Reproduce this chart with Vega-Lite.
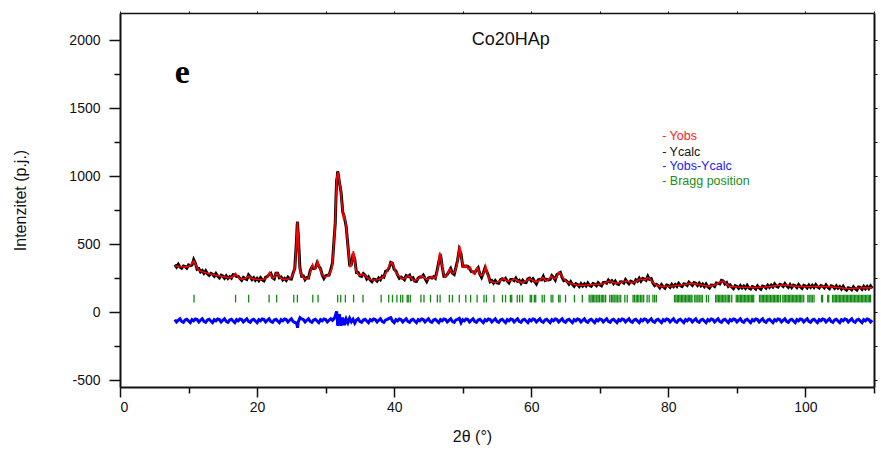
{
"$schema": "https://vega.github.io/schema/vega-lite/v6.json",
"width": 754,
"height": 374,
"autosize": {"type": "none"},
"padding": {"left": 120, "top": 13, "right": 7, "bottom": 64},
"background": "white",
"config": {"view": {"stroke": null}, "axis": {"grid": false, "labelFont": "Liberation Sans", "titleFont": "Liberation Sans", "labelColor": "#111", "titleColor": "#111", "domainColor": "#111", "tickColor": "#111"}},
"datasets": {
"obs": [
{"t":8.0,"c":349,"d":-54},{"t":8.25,"c":332,"d":-72},{"t":8.5,"c":352,"d":-59},{"t":8.75,"c":332,"d":-48},{"t":9.0,"c":323,"d":-68},{"t":9.25,"c":340,"d":-75},{"t":9.5,"c":335,"d":-57},{"t":9.75,"c":324,"d":-52},{"t":10.0,"c":347,"d":-65},{"t":10.25,"c":342,"d":-77},{"t":10.5,"c":346,"d":-55},{"t":10.75,"c":386,"d":-63},{"t":11.0,"c":359,"d":-50},{"t":11.25,"c":316,"d":-54},{"t":11.5,"c":321,"d":-72},{"t":11.75,"c":296,"d":-59},{"t":12.0,"c":306,"d":-48},{"t":12.25,"c":286,"d":-68},{"t":12.5,"c":304,"d":-75},{"t":12.75,"c":282,"d":-57},{"t":13.0,"c":271,"d":-52},{"t":13.25,"c":286,"d":-65},{"t":13.5,"c":279,"d":-77},{"t":13.75,"c":264,"d":-55},{"t":14.0,"c":284,"d":-63},{"t":14.25,"c":266,"d":-50},{"t":14.5,"c":253,"d":-54},{"t":14.75,"c":272,"d":-72},{"t":15.0,"c":266,"d":-59},{"t":15.25,"c":250,"d":-48},{"t":15.5,"c":267,"d":-68},{"t":15.75,"c":248,"d":-75},{"t":16.0,"c":261,"d":-57},{"t":16.25,"c":250,"d":-52},{"t":16.5,"c":276,"d":-65},{"t":16.75,"c":274,"d":-77},{"t":17.0,"c":263,"d":-55},{"t":17.25,"c":264,"d":-63},{"t":17.5,"c":247,"d":-50},{"t":17.75,"c":234,"d":-54},{"t":18.0,"c":255,"d":-72},{"t":18.25,"c":246,"d":-59},{"t":18.5,"c":241,"d":-48},{"t":18.75,"c":274,"d":-68},{"t":19.0,"c":259,"d":-75},{"t":19.25,"c":240,"d":-57},{"t":19.5,"c":254,"d":-52},{"t":19.75,"c":235,"d":-65},{"t":20.0,"c":249,"d":-77},{"t":20.25,"c":233,"d":-55},{"t":20.5,"c":254,"d":-63},{"t":20.75,"c":237,"d":-50},{"t":21.0,"c":230,"d":-54},{"t":21.25,"c":257,"d":-72},{"t":21.5,"c":262,"d":-59},{"t":21.75,"c":277,"d":-48},{"t":22.0,"c":286,"d":-68},{"t":22.25,"c":253,"d":-75},{"t":22.5,"c":245,"d":-57},{"t":22.75,"c":286,"d":-52},{"t":23.0,"c":286,"d":-65},{"t":23.25,"c":253,"d":-77},{"t":23.5,"c":259,"d":-55},{"t":23.75,"c":238,"d":-63},{"t":24.0,"c":249,"d":-50},{"t":24.25,"c":234,"d":-54},{"t":24.5,"c":257,"d":-72},{"t":24.75,"c":245,"d":-59},{"t":25.0,"c":243,"d":-48},{"t":25.25,"c":286,"d":-68},{"t":25.5,"c":322,"d":-75},{"t":25.75,"c":530,"d":-80},{"t":25.85,"c":642,"d":-100},{"t":25.9,"c":665,"d":-115},{"t":25.95,"c":606,"d":-95},{"t":26.0,"c":578,"d":-72},{"t":26.25,"c":324,"d":-40},{"t":26.5,"c":264,"d":-50},{"t":26.75,"c":267,"d":-54},{"t":27.0,"c":239,"d":-72},{"t":27.25,"c":254,"d":-59},{"t":27.5,"c":251,"d":-48},{"t":27.75,"c":306,"d":-68},{"t":28.0,"c":331,"d":-75},{"t":28.25,"c":320,"d":-57},{"t":28.5,"c":324,"d":-52},{"t":28.75,"c":362,"d":-65},{"t":29.0,"c":340,"d":-77},{"t":29.25,"c":320,"d":-55},{"t":29.5,"c":274,"d":-63},{"t":29.75,"c":248,"d":-50},{"t":30.0,"c":268,"d":-54},{"t":30.25,"c":271,"d":-72},{"t":30.5,"c":272,"d":-59},{"t":30.75,"c":313,"d":-48},{"t":31.0,"c":364,"d":-60},{"t":31.25,"c":549,"d":-45},{"t":31.4,"c":653,"d":-30},{"t":31.5,"c":829,"d":-10},{"t":31.6,"c":966,"d":5},{"t":31.7,"c":998,"d":-40},{"t":31.75,"c":1036,"d":-100},{"t":31.85,"c":1010,"d":-80},{"t":32.0,"c":958,"d":-15},{"t":32.25,"c":882,"d":-100},{"t":32.5,"c":735,"d":-40},{"t":32.75,"c":694,"d":-95},{"t":33.0,"c":628,"d":-50},{"t":33.25,"c":489,"d":-78},{"t":33.5,"c":349,"d":-45},{"t":33.75,"c":351,"d":-70},{"t":34.0,"c":429,"d":-52},{"t":34.25,"c":389,"d":-80},{"t":34.5,"c":291,"d":-58},{"t":34.75,"c":291,"d":-48},{"t":35.0,"c":268,"d":-68},{"t":35.25,"c":263,"d":-75},{"t":35.5,"c":284,"d":-57},{"t":35.75,"c":272,"d":-52},{"t":36.0,"c":245,"d":-65},{"t":36.25,"c":260,"d":-77},{"t":36.5,"c":237,"d":-55},{"t":36.75,"c":224,"d":-63},{"t":37.0,"c":243,"d":-50},{"t":37.25,"c":240,"d":-54},{"t":37.5,"c":229,"d":-72},{"t":37.75,"c":252,"d":-59},{"t":38.0,"c":239,"d":-48},{"t":38.25,"c":264,"d":-68},{"t":38.5,"c":258,"d":-75},{"t":38.75,"c":300,"d":-57},{"t":39.0,"c":306,"d":-52},{"t":39.25,"c":326,"d":-45},{"t":39.5,"c":366,"d":-40},{"t":39.75,"c":359,"d":-65},{"t":40.0,"c":315,"d":-77},{"t":40.25,"c":304,"d":-55},{"t":40.5,"c":272,"d":-63},{"t":40.75,"c":250,"d":-50},{"t":41.0,"c":259,"d":-54},{"t":41.25,"c":250,"d":-72},{"t":41.5,"c":239,"d":-59},{"t":41.75,"c":269,"d":-48},{"t":42.0,"c":262,"d":-68},{"t":42.25,"c":272,"d":-75},{"t":42.5,"c":242,"d":-57},{"t":42.75,"c":253,"d":-52},{"t":43.0,"c":228,"d":-65},{"t":43.25,"c":226,"d":-77},{"t":43.5,"c":251,"d":-55},{"t":43.75,"c":258,"d":-63},{"t":44.0,"c":258,"d":-50},{"t":44.25,"c":272,"d":-54},{"t":44.5,"c":248,"d":-72},{"t":44.75,"c":226,"d":-59},{"t":45.0,"c":252,"d":-48},{"t":45.25,"c":256,"d":-68},{"t":45.5,"c":251,"d":-75},{"t":45.75,"c":261,"d":-57},{"t":46.0,"c":250,"d":-52},{"t":46.25,"c":304,"d":-65},{"t":46.5,"c":367,"d":-77},{"t":46.75,"c":426,"d":-55},{"t":47.0,"c":336,"d":-63},{"t":47.25,"c":264,"d":-50},{"t":47.5,"c":264,"d":-54},{"t":47.75,"c":278,"d":-72},{"t":48.0,"c":298,"d":-59},{"t":48.25,"c":321,"d":-48},{"t":48.5,"c":287,"d":-68},{"t":48.75,"c":278,"d":-75},{"t":49.0,"c":328,"d":-57},{"t":49.25,"c":382,"d":-52},{"t":49.5,"c":461,"d":-45},{"t":49.75,"c":429,"d":-77},{"t":50.0,"c":338,"d":-55},{"t":50.25,"c":339,"d":-63},{"t":50.5,"c":338,"d":-50},{"t":50.75,"c":336,"d":-54},{"t":51.0,"c":322,"d":-72},{"t":51.25,"c":300,"d":-59},{"t":51.5,"c":296,"d":-48},{"t":51.75,"c":289,"d":-68},{"t":52.0,"c":310,"d":-75},{"t":52.25,"c":326,"d":-57},{"t":52.5,"c":280,"d":-52},{"t":52.75,"c":256,"d":-65},{"t":53.0,"c":288,"d":-77},{"t":53.25,"c":326,"d":-55},{"t":53.5,"c":301,"d":-63},{"t":53.75,"c":269,"d":-50},{"t":54.0,"c":224,"d":-54},{"t":54.25,"c":232,"d":-72},{"t":54.5,"c":214,"d":-59},{"t":54.75,"c":233,"d":-48},{"t":55.0,"c":216,"d":-68},{"t":55.25,"c":213,"d":-75},{"t":55.5,"c":238,"d":-57},{"t":55.75,"c":245,"d":-52},{"t":56.0,"c":236,"d":-65},{"t":56.25,"c":249,"d":-77},{"t":56.5,"c":228,"d":-55},{"t":56.75,"c":215,"d":-63},{"t":57.0,"c":241,"d":-50},{"t":57.25,"c":241,"d":-54},{"t":57.5,"c":232,"d":-72},{"t":57.75,"c":250,"d":-59},{"t":58.0,"c":227,"d":-48},{"t":58.25,"c":235,"d":-68},{"t":58.5,"c":213,"d":-75},{"t":58.75,"c":234,"d":-57},{"t":59.0,"c":220,"d":-52},{"t":59.25,"c":218,"d":-65},{"t":59.5,"c":245,"d":-77},{"t":59.75,"c":250,"d":-55},{"t":60.0,"c":231,"d":-63},{"t":60.25,"c":246,"d":-50},{"t":60.5,"c":225,"d":-54},{"t":60.75,"c":208,"d":-72},{"t":61.0,"c":237,"d":-59},{"t":61.25,"c":241,"d":-48},{"t":61.5,"c":238,"d":-68},{"t":61.75,"c":264,"d":-75},{"t":62.0,"c":234,"d":-57},{"t":62.25,"c":241,"d":-52},{"t":62.5,"c":237,"d":-65},{"t":62.75,"c":241,"d":-77},{"t":63.0,"c":269,"d":-55},{"t":63.25,"c":255,"d":-63},{"t":63.5,"c":236,"d":-50},{"t":63.75,"c":277,"d":-54},{"t":64.0,"c":284,"d":-72},{"t":64.25,"c":292,"d":-59},{"t":64.5,"c":256,"d":-48},{"t":64.75,"c":232,"d":-68},{"t":65.0,"c":236,"d":-75},{"t":65.25,"c":224,"d":-57},{"t":65.5,"c":206,"d":-52},{"t":65.75,"c":224,"d":-65},{"t":66.0,"c":205,"d":-77},{"t":66.25,"c":191,"d":-55},{"t":66.5,"c":210,"d":-63},{"t":66.75,"c":204,"d":-50},{"t":67.0,"c":189,"d":-54},{"t":67.25,"c":209,"d":-72},{"t":67.5,"c":192,"d":-59},{"t":67.75,"c":208,"d":-48},{"t":68.0,"c":193,"d":-68},{"t":68.25,"c":215,"d":-75},{"t":68.5,"c":198,"d":-57},{"t":68.75,"c":191,"d":-52},{"t":69.0,"c":210,"d":-65},{"t":69.25,"c":206,"d":-77},{"t":69.5,"c":195,"d":-55},{"t":69.75,"c":217,"d":-63},{"t":70.0,"c":203,"d":-50},{"t":70.25,"c":194,"d":-54},{"t":70.5,"c":218,"d":-72},{"t":70.75,"c":220,"d":-59},{"t":71.0,"c":213,"d":-48},{"t":71.25,"c":236,"d":-68},{"t":71.5,"c":222,"d":-75},{"t":71.75,"c":232,"d":-57},{"t":72.0,"c":211,"d":-52},{"t":72.25,"c":228,"d":-65},{"t":72.5,"c":209,"d":-77},{"t":72.75,"c":204,"d":-55},{"t":73.0,"c":224,"d":-63},{"t":73.25,"c":223,"d":-50},{"t":73.5,"c":214,"d":-54},{"t":73.75,"c":240,"d":-72},{"t":74.0,"c":223,"d":-59},{"t":74.25,"c":209,"d":-48},{"t":74.5,"c":228,"d":-68},{"t":74.75,"c":221,"d":-75},{"t":75.0,"c":212,"d":-57},{"t":75.25,"c":238,"d":-52},{"t":75.5,"c":228,"d":-65},{"t":75.75,"c":250,"d":-77},{"t":76.0,"c":228,"d":-55},{"t":76.25,"c":248,"d":-63},{"t":76.5,"c":243,"d":-50},{"t":76.75,"c":235,"d":-54},{"t":77.0,"c":265,"d":-72},{"t":77.25,"c":241,"d":-59},{"t":77.5,"c":246,"d":-48},{"t":77.75,"c":214,"d":-68},{"t":78.0,"c":196,"d":-75},{"t":78.25,"c":205,"d":-57},{"t":78.5,"c":196,"d":-52},{"t":78.75,"c":180,"d":-65},{"t":79.0,"c":202,"d":-77},{"t":79.25,"c":187,"d":-55},{"t":79.5,"c":176,"d":-63},{"t":79.75,"c":199,"d":-50},{"t":80.0,"c":195,"d":-54},{"t":80.25,"c":183,"d":-72},{"t":80.5,"c":204,"d":-59},{"t":80.75,"c":188,"d":-48},{"t":81.0,"c":204,"d":-68},{"t":81.25,"c":190,"d":-75},{"t":81.5,"c":212,"d":-57},{"t":81.75,"c":196,"d":-52},{"t":82.0,"c":189,"d":-65},{"t":82.25,"c":209,"d":-77},{"t":82.5,"c":207,"d":-55},{"t":82.75,"c":197,"d":-63},{"t":83.0,"c":221,"d":-50},{"t":83.25,"c":209,"d":-54},{"t":83.5,"c":197,"d":-72},{"t":83.75,"c":217,"d":-59},{"t":84.0,"c":212,"d":-48},{"t":84.25,"c":196,"d":-68},{"t":84.5,"c":214,"d":-75},{"t":84.75,"c":194,"d":-57},{"t":85.0,"c":207,"d":-52},{"t":85.25,"c":189,"d":-65},{"t":85.5,"c":208,"d":-77},{"t":85.75,"c":188,"d":-55},{"t":86.0,"c":178,"d":-63},{"t":86.25,"c":199,"d":-50},{"t":86.5,"c":198,"d":-54},{"t":86.75,"c":189,"d":-72},{"t":87.0,"c":215,"d":-59},{"t":87.25,"c":212,"d":-48},{"t":87.5,"c":208,"d":-68},{"t":87.75,"c":234,"d":-75},{"t":88.0,"c":229,"d":-57},{"t":88.25,"c":208,"d":-52},{"t":88.5,"c":218,"d":-65},{"t":88.75,"c":190,"d":-77},{"t":89.0,"c":201,"d":-55},{"t":89.25,"c":186,"d":-63},{"t":89.5,"c":174,"d":-50},{"t":89.75,"c":195,"d":-54},{"t":90.0,"c":189,"d":-72},{"t":90.25,"c":176,"d":-59},{"t":90.5,"c":195,"d":-48},{"t":90.75,"c":178,"d":-68},{"t":91.0,"c":192,"d":-75},{"t":91.25,"c":176,"d":-57},{"t":91.5,"c":197,"d":-52},{"t":91.75,"c":178,"d":-65},{"t":92.0,"c":170,"d":-77},{"t":92.25,"c":188,"d":-55},{"t":92.5,"c":183,"d":-63},{"t":92.75,"c":171,"d":-50},{"t":93.0,"c":194,"d":-54},{"t":93.25,"c":179,"d":-72},{"t":93.5,"c":169,"d":-59},{"t":93.75,"c":192,"d":-48},{"t":94.0,"c":189,"d":-68},{"t":94.25,"c":177,"d":-75},{"t":94.5,"c":198,"d":-57},{"t":94.75,"c":183,"d":-52},{"t":95.0,"c":199,"d":-65},{"t":95.25,"c":185,"d":-77},{"t":95.5,"c":208,"d":-55},{"t":95.75,"c":191,"d":-63},{"t":96.0,"c":185,"d":-50},{"t":96.25,"c":204,"d":-54},{"t":96.5,"c":201,"d":-72},{"t":96.75,"c":190,"d":-59},{"t":97.0,"c":210,"d":-48},{"t":97.25,"c":194,"d":-68},{"t":97.5,"c":182,"d":-75},{"t":97.75,"c":203,"d":-57},{"t":98.0,"c":182,"d":-52},{"t":98.25,"c":199,"d":-65},{"t":98.5,"c":194,"d":-77},{"t":98.75,"c":181,"d":-55},{"t":99.0,"c":203,"d":-63},{"t":99.25,"c":187,"d":-50},{"t":99.5,"c":175,"d":-54},{"t":99.75,"c":197,"d":-72},{"t":100.0,"c":192,"d":-59},{"t":100.25,"c":179,"d":-48},{"t":100.5,"c":199,"d":-68},{"t":100.75,"c":183,"d":-75},{"t":101.0,"c":198,"d":-57},{"t":101.25,"c":182,"d":-52},{"t":101.5,"c":203,"d":-65},{"t":101.75,"c":186,"d":-77},{"t":102.0,"c":178,"d":-55},{"t":102.25,"c":196,"d":-63},{"t":102.5,"c":191,"d":-50},{"t":102.75,"c":179,"d":-54},{"t":103.0,"c":200,"d":-72},{"t":103.25,"c":184,"d":-59},{"t":103.5,"c":173,"d":-48},{"t":103.75,"c":194,"d":-68},{"t":104.0,"c":189,"d":-75},{"t":104.25,"c":175,"d":-57},{"t":104.5,"c":194,"d":-52},{"t":104.75,"c":176,"d":-65},{"t":105.0,"c":189,"d":-77},{"t":105.25,"c":171,"d":-55},{"t":105.5,"c":191,"d":-63},{"t":105.75,"c":171,"d":-50},{"t":106.0,"c":162,"d":-54},{"t":106.25,"c":180,"d":-72},{"t":106.5,"c":176,"d":-59},{"t":106.75,"c":165,"d":-48},{"t":107.0,"c":187,"d":-68},{"t":107.25,"c":173,"d":-75},{"t":107.5,"c":163,"d":-57},{"t":107.75,"c":185,"d":-52},{"t":108.0,"c":182,"d":-65},{"t":108.25,"c":169,"d":-77},{"t":108.5,"c":190,"d":-55},{"t":108.75,"c":173,"d":-63},{"t":109.0,"c":189,"d":-50},{"t":109.25,"c":173,"d":-54},{"t":109.5,"c":193,"d":-72},{"t":109.75,"c":175,"d":-59}
],
"fit": [
{"t":8.0,"y":340},{"t":8.5,"y":338},{"t":9.0,"y":335},{"t":9.5,"y":333},{"t":10.0,"y":335},{"t":10.25,"y":345},{"t":10.5,"y":360},{"t":10.75,"y":378},{"t":11.0,"y":355},{"t":11.25,"y":325},{"t":11.5,"y":310},{"t":11.75,"y":302},{"t":12.0,"y":297},{"t":12.5,"y":290},{"t":13.0,"y":283},{"t":13.5,"y":277},{"t":14.0,"y":272},{"t":14.5,"y":267},{"t":15.0,"y":262},{"t":15.5,"y":256},{"t":16.0,"y":252},{"t":16.5,"y":262},{"t":16.85,"y":285},{"t":17.25,"y":258},{"t":17.5,"y":245},{"t":18.0,"y":243},{"t":18.5,"y":255},{"t":18.75,"y":266},{"t":19.0,"y":255},{"t":19.5,"y":243},{"t":20.0,"y":240},{"t":20.5,"y":240},{"t":21.0,"y":242},{"t":21.5,"y":260},{"t":21.8,"y":292},{"t":22.1,"y":265},{"t":22.35,"y":250},{"t":22.6,"y":265},{"t":22.9,"y":290},{"t":23.2,"y":265},{"t":23.5,"y":248},{"t":24.0,"y":240},{"t":24.5,"y":243},{"t":25.0,"y":255},{"t":25.3,"y":285},{"t":25.55,"y":339},{"t":25.72,"y":500},{"t":25.88,"y":665},{"t":26.04,"y":530},{"t":26.18,"y":340},{"t":26.35,"y":285},{"t":26.7,"y":258},{"t":27.0,"y":245},{"t":27.3,"y":245},{"t":27.6,"y":265},{"t":27.9,"y":320},{"t":28.1,"y":350},{"t":28.35,"y":320},{"t":28.5,"y":318},{"t":28.85,"y":375},{"t":29.1,"y":330},{"t":29.4,"y":285},{"t":29.7,"y":262},{"t":30.0,"y":260},{"t":30.3,"y":268},{"t":30.6,"y":285},{"t":30.9,"y":320},{"t":31.1,"y":420},{"t":31.4,"y":660},{"t":31.6,"y":970},{"t":31.75,"y":1030},{"t":31.95,"y":985},{"t":32.2,"y":900},{"t":32.4,"y":780},{"t":32.6,"y":695},{"t":32.75,"y":708},{"t":32.95,"y":650},{"t":33.15,"y":540},{"t":33.35,"y":430},{"t":33.55,"y":335},{"t":33.75,"y":340},{"t":33.95,"y":420},{"t":34.05,"y":450},{"t":34.2,"y":400},{"t":34.45,"y":302},{"t":34.8,"y":275},{"t":35.1,"y":270},{"t":35.4,"y":280},{"t":35.7,"y":272},{"t":36.0,"y":255},{"t":36.5,"y":240},{"t":37.0,"y":235},{"t":37.5,"y":238},{"t":38.0,"y":245},{"t":38.25,"y":255},{"t":38.5,"y":265},{"t":38.8,"y":290},{"t":39.1,"y":320},{"t":39.4,"y":355},{"t":39.65,"y":368},{"t":39.9,"y":340},{"t":40.2,"y":295},{"t":40.5,"y":275},{"t":40.8,"y":262},{"t":41.1,"y":245},{"t":41.5,"y":248},{"t":42.0,"y":268},{"t":42.3,"y":262},{"t":42.6,"y":243},{"t":43.0,"y":232},{"t":43.5,"y":245},{"t":44.0,"y":268},{"t":44.4,"y":255},{"t":44.8,"y":238},{"t":45.2,"y":250},{"t":45.45,"y":262},{"t":45.8,"y":248},{"t":46.1,"y":260},{"t":46.4,"y":330},{"t":46.65,"y":440},{"t":46.9,"y":370},{"t":47.2,"y":280},{"t":47.5,"y":258},{"t":47.8,"y":280},{"t":48.1,"y":322},{"t":48.35,"y":300},{"t":48.6,"y":285},{"t":48.9,"y":300},{"t":49.2,"y":360},{"t":49.55,"y":490},{"t":49.8,"y":400},{"t":50.05,"y":330},{"t":50.3,"y":330},{"t":50.5,"y":345},{"t":50.8,"y":318},{"t":51.1,"y":330},{"t":51.4,"y":295},{"t":51.7,"y":280},{"t":52.0,"y":320},{"t":52.15,"y":328},{"t":52.4,"y":290},{"t":52.7,"y":268},{"t":53.0,"y":280},{"t":53.35,"y":340},{"t":53.6,"y":285},{"t":53.9,"y":232},{"t":54.3,"y":222},{"t":54.9,"y":218},{"t":55.4,"y":228},{"t":55.9,"y":250},{"t":56.3,"y":235},{"t":56.7,"y":228},{"t":57.2,"y":236},{"t":57.6,"y":243},{"t":58.1,"y":230},{"t":58.6,"y":217},{"t":59.2,"y":228},{"t":59.75,"y":248},{"t":60.2,"y":235},{"t":60.75,"y":222},{"t":61.2,"y":235},{"t":61.7,"y":255},{"t":62.2,"y":230},{"t":62.6,"y":245},{"t":62.9,"y":265},{"t":63.2,"y":252},{"t":63.5,"y":245},{"t":63.8,"y":270},{"t":64.05,"y":295},{"t":64.3,"y":280},{"t":64.6,"y":255},{"t":65.0,"y":230},{"t":65.4,"y":218},{"t":66.0,"y":208},{"t":66.5,"y":202},{"t":67.0,"y":198},{"t":67.5,"y":198},{"t":68.0,"y":200},{"t":68.5,"y":202},{"t":69.0,"y":204},{"t":69.5,"y":205},{"t":70.0,"y":206},{"t":70.5,"y":210},{"t":71.0,"y":222},{"t":71.5,"y":228},{"t":72.0,"y":218},{"t":72.4,"y":212},{"t":73.0,"y":218},{"t":73.5,"y":224},{"t":73.85,"y":229},{"t":74.3,"y":222},{"t":74.8,"y":217},{"t":75.3,"y":228},{"t":75.8,"y":242},{"t":76.3,"y":240},{"t":76.6,"y":238},{"t":77.0,"y":254},{"t":77.3,"y":245},{"t":77.7,"y":220},{"t":78.2,"y":200},{"t":78.7,"y":190},{"t":79.5,"y":190},{"t":80.5,"y":193},{"t":81.5,"y":198},{"t":82.5,"y":205},{"t":83.3,"y":212},{"t":84.0,"y":208},{"t":85.0,"y":198},{"t":86.0,"y":190},{"t":86.8,"y":200},{"t":87.4,"y":220},{"t":87.9,"y":228},{"t":88.3,"y":215},{"t":88.9,"y":190},{"t":90.0,"y":185},{"t":91.0,"y":183},{"t":92.0,"y":182},{"t":92.8,"y":181},{"t":94.0,"y":185},{"t":95.0,"y":190},{"t":96.0,"y":197},{"t":96.6,"y":200},{"t":97.5,"y":196},{"t":98.5,"y":192},{"t":100.0,"y":188},{"t":101.0,"y":189},{"t":102.0,"y":190},{"t":103.0,"y":188},{"t":104.0,"y":185},{"t":105.0,"y":180},{"t":105.9,"y":174},{"t":107.0,"y":175},{"t":108.0,"y":178},{"t":109.0,"y":180},{"t":109.75,"y":179}
],
"bragg": [
{"b":10.8},{"b":16.86},{"b":18.77},{"b":21.75},{"b":22.85},{"b":25.35},{"b":25.88},{"b":28.13},{"b":28.9},{"b":31.75},{"b":32.2},{"b":32.88},{"b":34.08},{"b":35.45},{"b":38.1},{"b":39.2},{"b":39.75},{"b":40.4},{"b":40.95},{"b":41.25},{"b":41.9},{"b":42.05},{"b":42.35},{"b":43.9},{"b":44.35},{"b":45.3},{"b":46.3},{"b":46.7},{"b":48.05},{"b":48.5},{"b":49.5},{"b":50.45},{"b":51.15},{"b":52.1},{"b":53.1},{"b":53.45},{"b":54.55},{"b":55.8},{"b":56.25},{"b":56.95},{"b":57.15},{"b":57.95},{"b":58.3},{"b":58.7},{"b":59.85},{"b":60.05},{"b":60.45},{"b":60.65},{"b":61.6},{"b":61.9},{"b":62.9},{"b":63.15},{"b":64.0},{"b":64.2},{"b":65.0},{"b":66.3},{"b":67.45},{"b":68.45},{"b":68.7},{"b":68.9},{"b":69.1},{"b":69.3},{"b":69.55},{"b":69.75},{"b":69.95},{"b":70.2},{"b":70.4},{"b":70.6},{"b":70.85},{"b":71.45},{"b":71.7},{"b":71.9},{"b":72.1},{"b":72.35},{"b":72.55},{"b":72.8},{"b":73.05},{"b":73.65},{"b":74.0},{"b":74.85},{"b":75.05},{"b":75.3},{"b":75.5},{"b":75.7},{"b":75.95},{"b":76.15},{"b":76.4},{"b":76.9},{"b":77.2},{"b":77.75},{"b":78.0},{"b":78.25},{"b":80.9},{"b":81.1},{"b":81.3},{"b":81.5},{"b":81.7},{"b":81.9},{"b":82.1},{"b":82.3},{"b":82.5},{"b":82.7},{"b":82.9},{"b":83.1},{"b":83.3},{"b":83.45},{"b":83.85},{"b":84.05},{"b":84.3},{"b":84.5},{"b":84.75},{"b":84.95},{"b":85.55},{"b":85.85},{"b":86.9},{"b":87.1},{"b":87.3},{"b":87.5},{"b":87.7},{"b":87.9},{"b":88.1},{"b":88.3},{"b":88.55},{"b":88.75},{"b":88.95},{"b":89.25},{"b":89.9},{"b":90.1},{"b":90.3},{"b":90.5},{"b":90.7},{"b":90.9},{"b":91.1},{"b":91.3},{"b":91.5},{"b":91.7},{"b":91.9},{"b":92.1},{"b":92.3},{"b":92.45},{"b":93.3},{"b":93.5},{"b":93.7},{"b":93.9},{"b":94.1},{"b":94.3},{"b":94.5},{"b":94.7},{"b":94.9},{"b":95.1},{"b":95.3},{"b":95.5},{"b":95.7},{"b":95.9},{"b":96.1},{"b":96.35},{"b":96.7},{"b":96.9},{"b":97.1},{"b":97.3},{"b":97.5},{"b":97.7},{"b":97.9},{"b":98.1},{"b":98.3},{"b":98.5},{"b":98.7},{"b":98.9},{"b":99.1},{"b":99.3},{"b":99.5},{"b":99.75},{"b":100.35},{"b":100.55},{"b":100.8},{"b":101.0},{"b":101.25},{"b":102.35},{"b":102.5},{"b":103.25},{"b":103.4},{"b":103.95},{"b":104.15},{"b":104.35},{"b":104.55},{"b":104.75},{"b":104.95},{"b":105.15},{"b":105.35},{"b":105.55},{"b":105.75},{"b":105.95},{"b":106.15},{"b":106.35},{"b":106.55},{"b":106.75},{"b":106.95},{"b":107.15},{"b":107.35},{"b":107.55},{"b":107.75},{"b":107.95},{"b":108.15},{"b":108.35},{"b":108.55},{"b":108.75},{"b":108.95},{"b":109.15},{"b":109.35},{"b":109.5}
],
"leg": [
{"t":79.1,"v":1296,"s":"- Yobs","k":"r"},
{"t":79.1,"v":1180,"s":"- Ycalc","k":"k"},
{"t":79.1,"v":1077,"s":"- Yobs-Ycalc","k":"b"},
{"t":79.1,"v":966,"s":"- Bragg position","k":"g"}
],
"ttl": [{"t":57.0,"v":2000,"s":"Co20HAp"}],
"tag": [{"t":9.1,"v":1757,"s":"e"}]
},
"resolve": {"axis": {"x": "independent", "y": "independent"}},
"layer": [
{
"data": {"name": "obs"},
"mark": {"type": "line", "color": "#000000", "strokeWidth": 3},
"encoding": {
"x": {"field": "t", "type": "quantitative", "scale": {"domain": [0, 110], "nice": false, "zero": false},
"axis": {"orient": "bottom", "values": [0, 20, 40, 60, 80, 100], "labelExpr": "datum.value + ''", "tickSize": 10, "tickWidth": 1.5, "domainWidth": 2, "labelFontSize": 14, "labelPadding": 3, "title": "2θ (°)", "titleFontSize": 16, "titleFontWeight": "normal", "titlePadding": 14, "titleX": 352}},
"y": {"field": "c", "type": "quantitative", "scale": {"domain": [-550, 2200], "nice": false, "zero": false},
"axis": {"orient": "left", "values": [-500, 0, 500, 1000, 1500, 2000], "labelExpr": "datum.value + ''", "tickSize": 11, "tickWidth": 1.5, "domainWidth": 2, "labelFontSize": 14, "labelPadding": 9, "title": "Intenzitet (p.j.)", "titleFontSize": 16, "titleFontWeight": "normal", "titlePadding": 40}}
}
},
{
"data": {"name": "obs"},
"mark": {"type": "line", "color": "#0000ff", "strokeWidth": 3},
"encoding": {
"x": {"field": "t", "type": "quantitative", "scale": {"domain": [0, 110], "nice": false, "zero": false},
"axis": {"orient": "bottom", "values": [10, 30, 50, 70, 90, 110], "tickSize": 6, "tickWidth": 1.5, "labels": false, "domain": false, "title": null}},
"y": {"field": "d", "type": "quantitative", "scale": {"domain": [-550, 2200], "nice": false, "zero": false},
"axis": {"orient": "left", "values": [-250, 250, 750, 1250, 1750], "tickSize": 6, "tickWidth": 1.5, "labels": false, "domain": false, "title": null}}
}
},
{
"data": {"name": "fit"},
"mark": {"type": "line", "color": "#ff0000", "strokeWidth": 1.6},
"encoding": {
"x": {"field": "t", "type": "quantitative", "scale": {"domain": [0, 110], "nice": false, "zero": false},
"axis": {"orient": "top", "values": [0, 10, 20, 30, 40, 50, 60, 70, 80, 90, 100, 110], "tickSize": 2, "labels": false, "domainWidth": 1.5, "title": null}},
"y": {"field": "y", "type": "quantitative", "scale": {"domain": [-550, 2200], "nice": false, "zero": false},
"axis": {"orient": "right", "values": [-500, -250, 0, 250, 500, 750, 1000, 1250, 1500, 1750, 2000], "tickSize": 3, "labels": false, "domainWidth": 2, "title": null}}
}
},
{
"data": {"name": "bragg"},
"mark": {"type": "rule", "color": "#128a12", "strokeWidth": 1.3},
"encoding": {
"x": {"field": "b", "type": "quantitative", "scale": {"domain": [0, 110], "nice": false, "zero": false}, "axis": null},
"y": {"datum": 72, "type": "quantitative", "scale": {"domain": [-550, 2200], "nice": false, "zero": false}, "axis": null},
"y2": {"datum": 128}
}
},
{
"data": {"name": "leg"},
"mark": {"type": "text", "align": "left", "baseline": "middle", "font": "Liberation Sans", "fontSize": 12.5},
"encoding": {
"x": {"field": "t", "type": "quantitative", "scale": {"domain": [0, 110], "nice": false, "zero": false}, "axis": null},
"y": {"field": "v", "type": "quantitative", "scale": {"domain": [-550, 2200], "nice": false, "zero": false}, "axis": null},
"text": {"field": "s"},
"color": {"field": "k", "type": "nominal", "scale": {"domain": ["r", "k", "b", "g"], "range": ["#ff2020", "#111111", "#2020ff", "#169016"]}, "legend": null}
}
},
{
"data": {"name": "ttl"},
"mark": {"type": "text", "align": "center", "baseline": "middle", "font": "Liberation Sans", "fontSize": 18, "color": "#111111"},
"encoding": {
"x": {"field": "t", "type": "quantitative", "scale": {"domain": [0, 110], "nice": false, "zero": false}, "axis": null},
"y": {"field": "v", "type": "quantitative", "scale": {"domain": [-550, 2200], "nice": false, "zero": false}, "axis": null},
"text": {"field": "s"}
}
},
{
"data": {"name": "tag"},
"mark": {"type": "text", "align": "center", "baseline": "middle", "font": "Liberation Serif", "fontSize": 34, "fontWeight": "bold", "color": "#000000"},
"encoding": {
"x": {"field": "t", "type": "quantitative", "scale": {"domain": [0, 110], "nice": false, "zero": false}, "axis": null},
"y": {"field": "v", "type": "quantitative", "scale": {"domain": [-550, 2200], "nice": false, "zero": false}, "axis": null},
"text": {"field": "s"}
}
}
]
}
